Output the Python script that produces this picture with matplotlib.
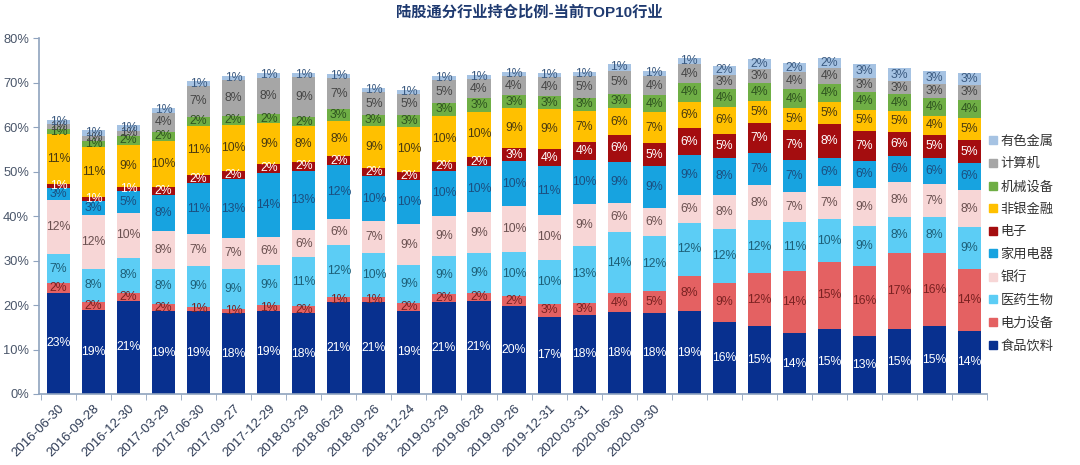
import matplotlib
matplotlib.use("Agg")
import matplotlib.pyplot as plt
from matplotlib.patches import Patch
from matplotlib.ticker import FuncFormatter, FixedLocator
import numpy as np

plt.rcParams['font.family'] = ['Liberation Sans', 'Noto Sans CJK SC', 'DejaVu Sans']

# tick labels that can be read in the picture (the rest are hidden by a watermark)
dates = ["2016-06-30", "2016-09-28", "2016-12-30", "2017-03-29", "2017-06-30", "2017-09-27",
         "2017-12-29", "2018-03-29", "2018-06-29", "2018-09-26", "2018-12-24", "2019-03-29",
         "2019-06-28", "2019-09-26", "2019-12-31", "2020-03-31", "2020-06-30", "2020-09-30",
         "", "", "", "", "", "", "", "", ""]

# holdings share by industry, % (bottom to top)
food = [22.8, 18.9, 21.0, 18.6, 18.6, 18.1, 18.7, 18.1, 20.6, 20.6, 18.7, 20.6, 21.0, 19.8,
        17.4, 17.8, 18.4, 18.3, 18.6, 16.2, 15.3, 13.6, 14.6, 13.0, 14.6, 15.3, 14.2]
power = [2.1, 1.8, 1.8, 1.6, 1.0, 1.0, 1.2, 1.6, 1.2, 1.2, 1.7, 1.8, 1.8, 2.3,
         2.8, 2.7, 4.2, 4.8, 8.0, 8.8, 11.8, 14.0, 15.1, 15.8, 17.0, 16.3, 14.0]
pharma = [6.6, 7.5, 7.8, 8.0, 9.2, 9.0, 9.2, 11.0, 11.8, 9.8, 8.6, 8.6, 8.8, 9.8,
          10.0, 12.8, 13.9, 12.4, 11.8, 12.0, 12.0, 11.1, 9.6, 9.0, 8.2, 8.1, 9.4]
bank = [12.2, 12.0, 10.2, 8.4, 7.2, 7.0, 6.3, 6.2, 5.8, 7.2, 9.2, 9.0, 9.3, 10.3,
        10.0, 9.3, 6.4, 6.4, 6.3, 7.8, 7.8, 6.8, 7.4, 8.6, 7.8, 7.4, 8.2]
appliance = [2.7, 3.2, 4.8, 8.2, 11.4, 13.2, 14.3, 13.3, 12.0, 10.2, 10.0, 10.2, 10.3, 10.2,
             11.0, 10.0, 9.3, 9.3, 9.0, 8.3, 7.2, 7.0, 6.4, 6.0, 5.8, 6.0, 6.2]
electronics = [0.8, 0.9, 1.0, 1.8, 1.9, 1.9, 2.0, 2.0, 2.0, 1.8, 1.8, 2.0, 2.0, 2.8,
               3.8, 4.0, 6.0, 5.2, 6.0, 5.4, 6.8, 6.8, 7.6, 6.8, 5.6, 5.2, 5.0]
nonbank = [11.2, 11.3, 9.4, 10.2, 11.0, 10.3, 9.2, 8.0, 8.0, 9.4, 10.0, 10.3, 10.3, 9.0,
           9.0, 7.0, 6.0, 7.0, 6.0, 6.1, 5.0, 5.0, 5.0, 4.7, 4.6, 4.2, 5.0]
machinery = [1.2, 1.3, 2.0, 2.2, 2.0, 2.0, 2.0, 2.0, 2.6, 2.6, 2.8, 3.0, 3.0, 3.0,
             3.0, 3.0, 3.3, 3.8, 4.2, 4.0, 4.0, 4.2, 4.0, 4.0, 3.8, 4.0, 4.2]
computer = [1.0, 1.2, 1.2, 4.2, 7.0, 8.0, 8.2, 9.0, 7.0, 5.0, 4.6, 5.0, 4.3, 4.2,
            4.2, 4.8, 5.2, 4.3, 4.2, 3.2, 3.2, 3.8, 3.6, 3.2, 3.0, 3.2, 3.2]
metals = [1.0, 1.2, 1.2, 1.2, 1.0, 1.0, 1.0, 1.0, 1.0, 1.0, 1.0, 1.0, 1.0, 1.0,
          1.0, 1.0, 1.4, 1.2, 1.4, 2.0, 2.2, 2.0, 2.2, 3.0, 2.8, 2.8, 2.8]

names = ["食品饮料", "电力设备", "医药生物", "银行", "家用电器",
         "电子", "非银金融", "机械设备", "计算机", "有色金属"]
series = [food, power, pharma, bank, appliance, electronics, nonbank, machinery, computer, metals]
colors = ["#08308F", "#E46162", "#5CCDF5", "#F7D6D6", "#17A3E0",
          "#A40D0F", "#FFC000", "#6FAE45", "#A6A6A6", "#A6C3E3"]
text_colors = ["white", "#7A2222", "#1D5F78", "#6A5050", "#1B4F80",
               "white", "#4A3A10", "#2F5420", "#454545", "#3B5A80"]

fig = plt.figure(figsize=(10.8, 4.65), dpi=100)
ax = fig.add_axes([0.036, 0.1527, 0.878, 0.7653])

x = np.arange(len(food))
bottom = np.zeros(len(food))
handles = []
for vals, name, c, tc in zip(series, names, colors, text_colors):
    vals = np.array(vals) / 100
    ax.bar(x, vals, 0.66, bottom=bottom, color=c, linewidth=0)
    for xi, b, v in zip(x, bottom, vals):
        ax.text(xi, b + v / 2, f"{v * 100:.0f}%", ha='center', va='center',
                fontsize=8.8, color=tc)
    bottom += vals
    handles.append(Patch(color=c, label=name))

ax.set_xlim(-0.56, len(food) - 0.5)
ax.set_ylim(0, 0.8)
ax.yaxis.set_major_locator(FixedLocator(np.arange(0, 0.81, 0.1)))
ax.yaxis.set_major_formatter(FuncFormatter(lambda v, p: f"{v * 100:.0f}%"))
ax.set_xticks(x)
ax.set_xticklabels(dates, rotation=45, ha='right', rotation_mode='anchor')
ax.set_xticks(np.arange(len(food) + 1) - 0.5, minor=True)

axis_col = "#8FA3BE"
for s in ['top', 'right']:
    ax.spines[s].set_visible(False)
for s in ['left', 'bottom']:
    ax.spines[s].set_color(axis_col)
    ax.spines[s].set_linewidth(1.2)
ax.tick_params(axis='y', length=4, color=axis_col, labelsize=9.3, labelcolor="#4A566A", pad=3)
ax.tick_params(axis='x', which='major', length=0, labelsize=9.5, labelcolor="#2E3B55", pad=6)
ax.tick_params(axis='x', which='minor', length=4, color=axis_col)

leg = fig.legend(handles[::-1], names[::-1], loc='center left', bbox_to_anchor=(0.916, 0.475),
                 frameon=False, fontsize=9.5, handlelength=0.55, handleheight=0.55,
                 handletextpad=0.3, labelspacing=0.78, borderpad=0, borderaxespad=0)
for t in leg.get_texts():
    t.set_color("#333333")

fig.text(0.49, 0.99, "陆股通分行业持仓比例-当前TOP10行业", ha='center', va='top',
         fontsize=11, fontweight='bold', color="#1F3A70")

fig.savefig("out.png", dpi=100)
